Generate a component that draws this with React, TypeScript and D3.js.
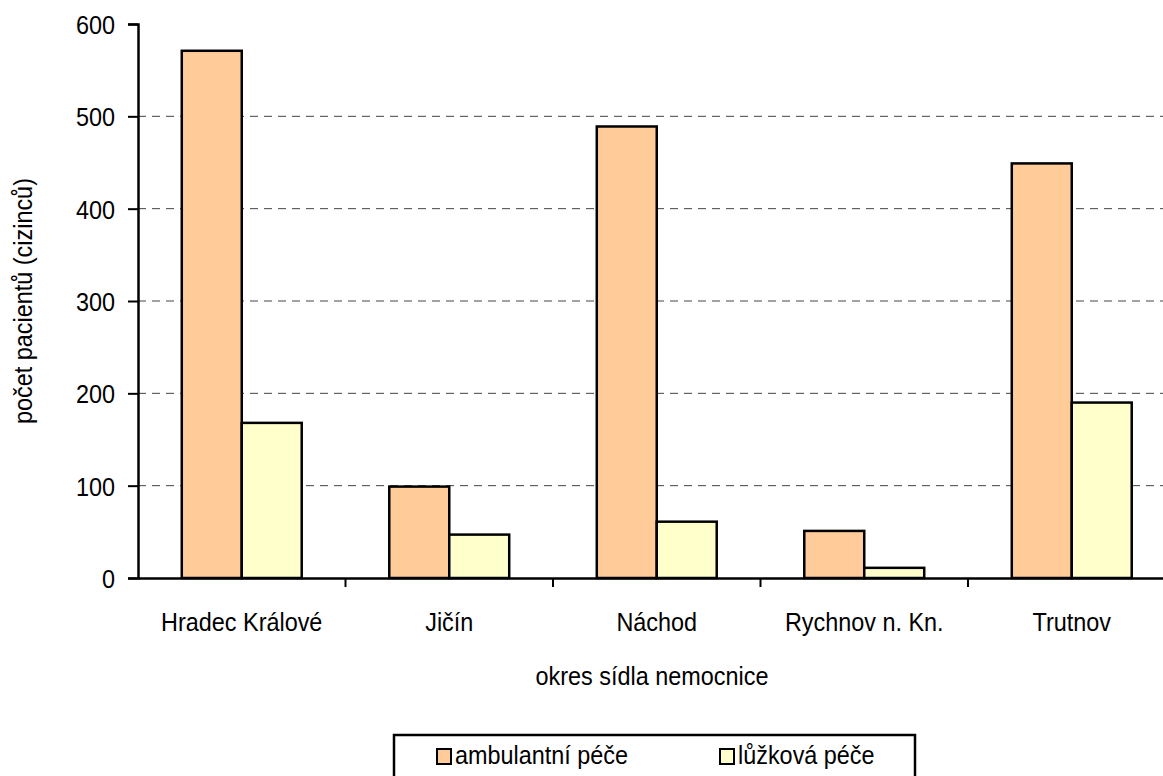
import { useEffect, useRef } from "react";
import { select, scaleBand, scaleLinear, axisLeft, axisBottom } from "d3";

const categories = ["Hradec Králové", "Jičín", "Náchod", "Rychnov n. Kn.", "Trutnov"];
const ambulantni = [571, 99, 489, 51, 449];
const luzkova = [168, 47, 61, 11, 190];
const seriesNames = ["ambulantní péče", "lůžková péče"];
const seriesColors = ["#FFCC99", "#FFFFCC"];
const yTicks = [0, 100, 200, 300, 400, 500, 600];

const W = 1163;
const H = 776;
const FONT = "'Liberation Sans', Arial, sans-serif";
const FS = 26;
const SQUEEZE = 0.9;

export default function App() {
    const ref = useRef<SVGSVGElement>(null);

    useEffect(() => {
        const svg = select(ref.current);
        svg.selectAll("*").remove();

        const left = 138;
        const top = 24;
        const bottom = 578;
        const catW = 207.5;

        const x = scaleBand<string>()
            .domain(categories)
            .range([left, left + catW * categories.length]);
        const y = scaleLinear().domain([0, 600]).range([bottom, top]);
        const inner = scaleBand<number>().domain([0, 1]).range([0, x.bandwidth()]).paddingOuter(0.73);

        // gridlines
        svg.append("g")
            .selectAll("line")
            .data(yTicks.filter((d) => d > 0 && d < 600))
            .join("line")
            .attr("x1", left)
            .attr("x2", W)
            .attr("y1", (d) => y(d))
            .attr("y2", (d) => y(d))
            .attr("stroke", "#444")
            .attr("stroke-width", 1)
            .attr("stroke-dasharray", "8,6");

        // bars
        const groups = svg.append("g")
            .selectAll("g")
            .data(categories)
            .join("g")
            .attr("transform", (d) => `translate(${x(d)},0)`);

        [ambulantni, luzkova].forEach((vals, si) => {
            groups.append("rect")
                .attr("x", inner(si)!)
                .attr("width", inner.bandwidth())
                .attr("y", (_, i) => y(vals[i]))
                .attr("height", (_, i) => bottom - y(vals[i]))
                .attr("fill", seriesColors[si])
                .attr("stroke", "#000")
                .attr("stroke-width", 2.5);
        });

        // y axis
        const ya = svg.append("g")
            .attr("transform", `translate(${left},0)`)
            .call(axisLeft(y).tickValues(yTicks).tickSize(10).tickPadding(13));
        ya.select(".domain").attr("stroke", "#000").attr("stroke-width", 2.5);
        ya.selectAll(".tick line").attr("stroke", "#000").attr("stroke-width", 2);
        ya.selectAll(".tick text").attr("dy", "0.36em");

        // x axis
        const xa = svg.append("g")
            .attr("transform", `translate(0,${bottom})`)
            .call(axisBottom(x).tickSize(0).tickPadding(53));
        xa.select(".domain").attr("stroke", "#000").attr("stroke-width", 2.5);
        xa.selectAll(".tick text").attr("dy", 0);
        xa.selectAll("line.sep")
            .data(categories.slice(1))
            .join("line")
            .attr("class", "sep")
            .attr("x1", (d) => x(d)!)
            .attr("x2", (d) => x(d)!)
            .attr("y1", 0)
            .attr("y2", 9)
            .attr("stroke", "#000")
            .attr("stroke-width", 2);

        // titles
        svg.append("text")
            .attr("x", 652)
            .attr("y", 685)
            .attr("text-anchor", "middle")
            .text("okres sídla nemocnice");

        svg.append("text")
            .attr("transform", `translate(32,${(top + bottom) / 2}) rotate(-90)`)
            .attr("text-anchor", "middle")
            .text("počet pacientů (cizinců)");

        // legend
        const lg = svg.append("g");
        lg.append("rect")
            .attr("x", 394)
            .attr("y", 735)
            .attr("width", 521)
            .attr("height", 60)
            .attr("fill", "#fff")
            .attr("stroke", "#000")
            .attr("stroke-width", 2.5);
        const lx = [437, 720];
        seriesNames.forEach((name, i) => {
            lg.append("rect")
                .attr("x", lx[i])
                .attr("y", 749)
                .attr("width", 14)
                .attr("height", 15)
                .attr("fill", seriesColors[i])
                .attr("stroke", "#000")
                .attr("stroke-width", 2);
            lg.append("text")
                .attr("x", lx[i] + 18)
                .attr("y", 764)
                .text(name);
        });

        // common text style, narrowed like the original font
        svg.selectAll<SVGTextElement, unknown>("text")
            .attr("font-family", FONT)
            .attr("font-size", FS)
            .attr("fill", "#000")
            .each(function () {
                const len = this.getComputedTextLength();
                this.setAttribute("textLength", String(len * SQUEEZE));
                this.setAttribute("lengthAdjust", "spacingAndGlyphs");
            });
    }, []);

    return (
        <svg
            ref={ref}
            width={W}
            height={H}
            style={{ position: "absolute", left: 0, top: 0, background: "#fff" }}
        />
    );
}
